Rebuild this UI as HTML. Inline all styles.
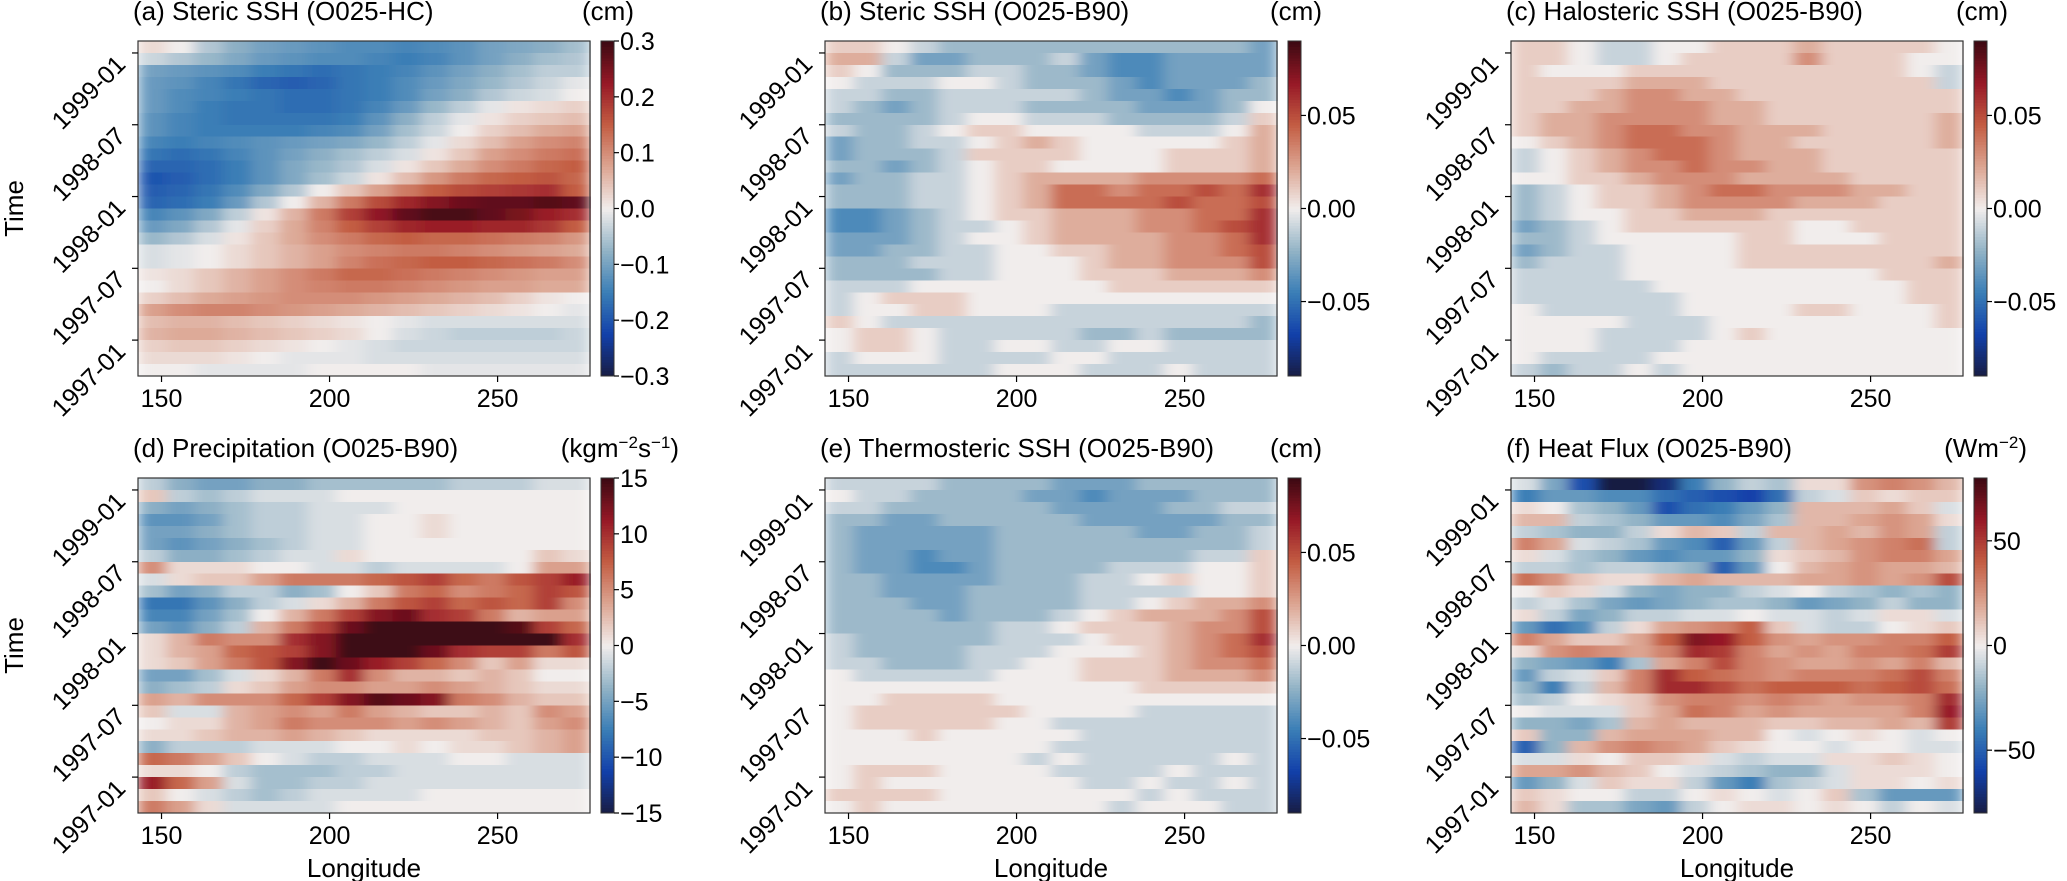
<!DOCTYPE html>
<html><head><meta charset="utf-8"><style>
html,body{margin:0;padding:0;background:#fff;}
svg{display:block;font-family:"Liberation Sans","DejaVu Sans",sans-serif;}
</style></head><body>
<svg id="fig" width="2067" height="881" viewBox="0 0 2067 881" xmlns="http://www.w3.org/2000/svg">
<defs>
<filter id="hblur" x="0" y="0" width="1" height="1"><feGaussianBlur stdDeviation="7 0" edgeMode="duplicate"/></filter>
</defs>
</svg>
<script>
// ---- shared axis data ----
const lonMin = 143, lonMax = 277.5;
const lonTicks = [150, 200, 250];
const timeStart = "1996-10"; // bottom edge, 28 monthly rows, top row = 1999-01
const nMonths = 28;
const timeTickMonths = [3, 9, 15, 21, 27];
const timeTickLabels = ["1997-01", "1997-07", "1998-01", "1998-07", "1999-01"];
const nLonCols = 16;

// ---- panel (a) steric SSH O025-HC, units 0.01 cm, rows top (1999-01) to bottom ----
const stericHC = [
[2,0,-5,-8,-10,-11,-12,-13,-13,-14,-13,-12,-10,-9,-8,-6],
[-3,-5,-7,-9,-11,-12,-13,-13,-14,-15,-14,-12,-10,-8,-6,-5],
[-10,-11,-12,-13,-15,-16,-17,-16,-15,-14,-12,-10,-8,-6,-4,-4],
[-11,-12,-14,-16,-18,-19,-18,-16,-15,-13,-11,-9,-7,-5,-3,-1],
[-11,-13,-14,-15,-16,-17,-17,-16,-15,-13,-10,-8,-5,-3,-2,0],
[-11,-13,-15,-16,-16,-17,-17,-16,-14,-11,-7,-4,-1,1,2,3],
[-12,-14,-15,-16,-16,-16,-16,-15,-12,-8,-4,-1,1,3,4,5],
[-12,-14,-15,-15,-15,-15,-14,-13,-10,-6,-3,0,3,5,7,8],
[-14,-15,-14,-13,-12,-11,-10,-9,-7,-4,-1,2,5,8,10,11],
[-16,-17,-16,-14,-12,-10,-8,-6,-4,-2,1,4,8,10,12,13],
[-18,-18,-17,-15,-12,-9,-7,-5,-2,1,4,7,10,12,14,15],
[-20,-19,-17,-15,-12,-9,-6,-3,1,5,9,12,14,15,16,14],
[-19,-18,-16,-13,-9,-5,0,4,8,12,15,17,18,19,20,15],
[-18,-17,-15,-11,-5,0,6,12,17,21,24,26,27,27,28,27],
[-14,-12,-9,-4,1,6,12,18,23,27,29,29,27,25,22,20],
[-11,-9,-5,-1,3,7,11,15,18,21,22,22,21,21,19,15],
[-7,-5,-2,1,4,7,10,12,14,15,14,14,13,12,11,9],
[-2,-1,0,2,4,6,8,10,11,12,12,11,10,9,8,7],
[-2,-1,0,2,4,6,8,11,13,14,15,15,14,13,12,10],
[1,2,4,6,8,10,12,14,14,13,12,11,10,9,8,8],
[0,2,4,6,8,10,11,12,12,11,10,9,8,8,7,7],
[3,5,7,8,9,10,10,10,9,8,7,6,5,3,1,0],
[8,10,11,11,10,9,8,7,6,5,4,3,2,1,0,-1],
[5,6,6,5,4,3,2,1,0,-1,-2,-2,-2,-2,-2,-2],
[6,7,7,6,5,4,3,2,0,-2,-3,-4,-4,-4,-4,-3],
[3,4,4,3,2,1,0,-1,-2,-3,-3,-3,-3,-3,-3,-3],
[2,2,2,1,0,-1,-1,-1,-2,-2,-2,-2,-2,-2,-2,-2],
[0,0,-1,-1,-1,-1,0,0,0,0,-1,-1,-1,-1,-1,-1]];

// ---- panel (b) steric SSH O025-B90, units 0.01 cm ----
const stericB90 = [
[1,1,0,-1,-2,-2,-2,-2,-2,-2,-2,-2,-2,-2,-2,-3],
[2,2,-1,-3,-3,-2,-2,-2,-1,-3,-4,-4,-3,-3,-3,-3],
[1,0,-2,-2,-2,-1,-1,-2,-2,-3,-4,-4,-3,-3,-3,-3],
[0,-1,-1,-1,0,0,-1,-2,-2,-2,-3,-4,-3,-3,-3,-2],
[-1,-1,-2,-2,-1,-1,-1,-1,-1,-2,-3,-3,-4,-3,-2,-2],
[-1,-2,-3,-2,-1,-1,-1,-2,-2,-2,-2,-3,-3,-3,-2,0],
[-2,-2,-2,-2,-1,0,0,-1,-1,-1,-2,-2,-2,-2,-1,1],
[-1,-2,-2,-1,0,1,1,0,0,0,0,-1,-1,-1,0,2],
[-3,-2,-2,-1,-1,0,1,2,1,0,0,0,0,0,1,2],
[-3,-2,-2,-2,-1,1,1,1,1,0,0,0,1,1,1,2],
[-2,-2,-3,-2,-1,0,1,1,0,0,0,0,1,1,1,2],
[-3,-2,-2,-1,-1,0,1,2,2,2,2,3,3,3,3,4],
[-2,-2,-2,-1,-1,0,1,2,4,4,3,4,4,5,4,6],
[-2,-2,-2,-1,-1,0,1,2,4,4,4,4,5,4,4,5],
[-4,-4,-3,-2,-1,0,1,1,2,2,2,3,3,4,4,6],
[-4,-4,-3,-2,-1,-1,0,1,2,2,2,3,3,4,5,6],
[-3,-3,-3,-2,-1,0,0,1,2,2,2,2,3,3,4,6],
[-3,-3,-2,-2,-1,-1,0,0,1,1,2,2,3,3,4,5],
[-2,-2,-2,-1,-1,-1,0,0,0,1,2,2,3,3,3,5],
[-2,-2,-2,-2,-1,-1,0,0,0,1,1,1,2,2,2,3],
[-1,-1,-1,0,0,0,0,0,0,0,1,1,1,1,1,1],
[-1,0,1,1,1,0,0,0,0,0,0,0,0,0,0,0],
[-1,0,0,1,1,0,0,0,-1,-1,-1,-1,-1,-1,-1,-1],
[1,0,-1,-1,-1,-1,-1,-1,-1,-1,-1,-1,-1,-1,-1,-2],
[0,1,1,0,-1,-1,-1,-1,-1,-2,-2,-1,-2,-2,-2,-2],
[0,1,1,0,-1,-1,0,0,-1,-1,0,0,-1,-1,-1,-1],
[-1,0,0,0,-1,-1,-1,-1,0,0,-1,-1,-1,-1,-1,-1],
[-1,-1,-1,-1,-1,-1,0,0,0,-1,-1,-1,0,-1,-1,-1]];

// ---- panel (c) halosteric SSH, units 0.01 cm ----
const halosteric = [
[1,1,0,-1,-1,0,0,1,1,1,2,1,1,1,1,0],
[1,1,0,-1,-1,0,1,1,1,1,3,1,1,1,0,0],
[1,0,0,0,1,1,1,1,1,1,1,1,1,1,0,-1],
[1,1,1,1,2,2,2,1,1,1,1,1,1,1,1,-1],
[1,1,1,2,3,3,2,2,1,1,1,1,1,1,1,1],
[1,1,2,2,3,3,3,2,2,1,1,1,1,1,1,1],
[1,2,2,3,3,3,3,2,2,1,1,1,1,1,1,2],
[1,2,2,3,4,4,3,3,2,2,2,1,1,1,1,2],
[0,1,2,3,4,4,4,3,2,2,1,1,1,1,1,2],
[-1,0,1,2,3,4,4,3,2,2,2,1,1,1,1,1],
[-1,0,1,2,3,3,4,3,3,2,2,1,1,1,1,1],
[0,0,1,1,2,3,3,3,2,2,2,2,1,1,1,1],
[-2,-1,0,1,1,2,3,4,4,3,3,3,2,2,1,1],
[-2,-1,0,1,1,2,3,3,3,3,2,2,2,1,1,1],
[-2,-1,0,0,1,1,2,2,2,1,1,1,1,1,1,1],
[-3,-2,-1,0,1,1,1,1,1,1,0,0,1,1,1,1],
[-2,-2,-1,0,0,0,0,0,1,1,0,0,0,1,1,1],
[-3,-2,-1,-1,0,0,0,0,1,1,1,1,1,1,1,1],
[-2,-1,-1,-1,0,0,0,0,1,1,1,1,1,1,1,2],
[-1,-1,-1,-1,0,0,0,0,0,0,0,0,0,1,1,1],
[-1,-1,-1,-1,-1,0,0,0,0,0,0,0,0,0,1,1],
[-1,-1,-1,-1,-1,-1,0,0,0,0,0,0,0,0,1,1],
[0,-1,-1,-1,-1,-1,0,0,0,0,1,1,0,0,0,1],
[0,0,0,0,-1,-1,-1,0,0,0,0,0,0,0,0,1],
[0,0,0,-1,-1,-1,-1,0,1,0,0,0,0,0,0,0],
[0,0,0,-1,-1,-1,0,0,0,0,0,0,0,0,0,0],
[0,-1,-1,-1,-1,0,0,0,0,0,0,0,0,0,0,0],
[-1,-2,-1,-1,0,-1,0,0,0,0,0,0,0,0,0,0]];

// ---- panel (d) precipitation (colorbar units) ----
const precip = [
[-2,-4,-5,-5,-4,-4,-3,-3,-3,-3,-3,-2,-2,-2,-1,-1],
[2,-2,-3,-2,-1,-1,-1,0,0,0,0,0,0,0,0,0],
[-4,-5,-4,-3,-2,-2,-1,-1,-1,0,0,0,0,0,0,0],
[-6,-6,-5,-3,-2,-2,-1,-1,0,0,1,0,0,0,0,0],
[-5,-5,-4,-3,-2,-2,-1,-1,0,0,1,0,0,0,0,0],
[-5,-6,-5,-4,-3,-2,-1,-1,0,0,0,0,0,0,0,0],
[-2,-4,-4,-3,-2,-1,-1,1,0,0,0,0,0,0,2,1],
[5,1,1,1,0,0,-1,-1,-2,-1,-1,-1,-1,0,4,4],
[-1,1,2,2,4,6,6,6,7,8,9,7,6,8,9,11],
[-3,-5,-4,-2,-2,-4,-3,0,2,6,7,5,6,7,9,8],
[-8,-8,-6,-4,-2,-1,1,3,6,8,9,7,8,7,9,5],
[-7,-7,-5,-3,0,3,6,9,12,13,10,9,6,3,4,4],
[-5,-6,-4,-2,3,6,9,13,15,15,15,15,15,14,9,7],
[1,3,6,5,5,10,12,15,15,15,15,15,15,15,15,10],
[1,3,4,7,8,9,12,15,15,15,13,10,9,9,6,8],
[1,2,4,6,8,12,15,13,11,9,7,5,2,4,1,1],
[-5,-5,-3,-1,1,3,6,10,5,3,3,2,3,2,0,0],
[-4,-3,-2,1,2,4,5,5,4,4,5,4,3,2,1,1],
[4,3,5,5,5,7,9,12,14,13,12,6,5,3,2,2],
[2,-1,-1,3,4,5,4,6,4,3,2,2,3,2,5,4],
[0,1,1,3,4,6,5,5,5,4,5,4,3,2,4,5],
[1,1,2,3,3,4,3,2,1,1,1,1,2,2,3,4],
[-4,-2,-2,-2,-1,-1,-1,0,0,1,0,1,1,2,3,4],
[7,6,4,2,0,-1,-2,-2,-1,-1,-1,0,0,-1,-1,-1],
[1,1,0,-2,-3,-3,-3,-2,-2,-1,-1,-1,-1,-1,-1,-1],
[11,7,4,-1,-3,-3,-2,-2,-1,-1,-1,-1,-1,-1,-1,-1],
[2,0,-1,-2,-3,-2,-1,-1,-1,-1,0,0,0,0,0,0],
[6,4,1,-1,-1,-1,-1,0,0,0,0,0,0,0,0,0]];

// ---- panel (e) thermosteric SSH, units 0.01 cm ----
const thermosteric = [
[-1,-1,-1,-1,-2,-2,-2,-2,-3,-3,-3,-2,-2,-2,-2,-2],
[0,-1,-1,-2,-2,-2,-2,-3,-3,-4,-3,-3,-3,-2,-2,-2],
[-1,-1,-2,-2,-2,-2,-2,-2,-3,-3,-3,-3,-2,-2,-1,-1],
[-2,-2,-3,-3,-2,-2,-2,-2,-2,-3,-3,-3,-3,-3,-2,-2],
[-2,-3,-3,-3,-3,-3,-2,-2,-2,-2,-2,-3,-3,-2,-2,-1],
[-2,-3,-3,-3,-3,-3,-2,-2,-2,-2,-2,-2,-2,-2,-2,-1],
[-2,-3,-3,-4,-3,-3,-2,-2,-2,-2,-2,-2,-2,-1,-1,1],
[-2,-3,-3,-4,-4,-3,-2,-2,-2,-2,-1,-1,-1,0,0,1],
[-2,-2,-3,-3,-3,-3,-2,-2,-2,-1,-1,0,1,0,0,1],
[-2,-2,-3,-3,-3,-2,-2,-2,-2,-1,-1,-1,-1,0,0,1],
[-2,-2,-2,-3,-3,-2,-2,-2,-2,-1,-1,0,1,2,2,3],
[-2,-2,-2,-2,-3,-2,-2,-2,-1,0,1,2,2,2,3,5],
[-2,-2,-2,-2,-2,-2,-1,-1,0,1,1,1,2,3,3,5],
[-1,-2,-2,-2,-2,-2,-1,-1,-1,0,1,1,2,3,4,6],
[-1,-2,-2,-2,-2,-1,-1,-1,0,0,0,1,2,3,4,5],
[-1,-1,-2,-2,-2,-1,-1,0,0,1,1,1,2,3,3,4],
[0,-1,-1,-1,-1,-1,0,0,0,1,1,1,2,2,2,3],
[0,0,0,0,0,0,0,0,0,0,0,1,1,1,1,1],
[0,0,1,1,1,1,0,0,0,0,0,0,0,0,0,0],
[0,1,1,1,1,1,1,0,0,0,0,-1,-1,-1,-1,-1],
[0,1,1,1,1,1,0,0,-1,-1,-1,-1,-1,-1,-1,-1],
[0,0,0,1,0,0,0,0,0,-1,-1,-1,-1,-1,-1,-1],
[0,0,0,0,0,0,0,0,-1,-1,-1,-1,-1,-1,-1,-1],
[0,0,0,0,0,0,0,-1,0,-1,-1,-1,-1,-1,0,-1],
[0,1,1,1,0,0,0,0,-1,-1,-1,-1,0,-1,-1,-1],
[0,1,0,0,0,0,0,0,0,-1,-1,0,-1,-1,0,-1],
[1,1,1,1,0,0,0,0,0,0,0,-1,0,-1,-1,-1],
[0,1,0,0,0,0,0,0,0,0,-1,0,0,0,-1,-1]];

// ---- panel (f) heat flux, W m-2 ----
const heatFlux = [
[-5,-25,-55,-80,-80,-70,-40,-20,-10,-15,5,5,25,30,25,15],
[-40,-30,-30,-35,-35,-45,-50,-55,-60,-45,-10,-5,10,5,10,10],
[5,0,-15,-20,-30,-55,-45,-40,-30,-20,15,15,15,20,10,-5],
[15,15,-10,-15,-20,-30,-30,-35,-25,-15,15,15,20,25,20,5],
[-10,-15,-20,-20,-10,5,15,10,-10,15,15,20,15,25,20,-10],
[30,20,-5,-10,-15,-30,-35,-50,-30,-10,15,20,25,30,35,-10],
[5,-5,-15,-20,-30,-35,-30,-30,-20,5,10,15,25,30,30,20],
[-10,-10,-15,-10,-10,-15,-20,-50,-30,0,15,20,25,20,20,15],
[35,25,10,5,5,15,20,15,15,15,20,20,25,20,25,45],
[0,10,5,-5,-20,-25,-20,-20,-10,-5,0,-10,-15,-20,-15,-20],
[-10,-5,-15,-25,-30,-25,-20,-15,-15,-20,-30,-25,-20,-10,-20,-20],
[5,-10,-25,-20,-10,-10,-5,-5,0,-5,-5,-10,-5,5,5,-5],
[-30,-45,-35,-10,5,20,25,30,40,10,-5,-10,-10,0,5,10],
[30,20,10,10,20,40,65,60,40,25,20,25,25,30,30,40],
[5,25,30,25,20,30,55,50,30,20,25,20,30,30,35,50],
[-20,-25,-30,-40,-15,20,30,45,30,25,20,20,25,20,30,15],
[-30,-10,-5,10,30,55,40,35,30,25,30,30,30,35,45,30],
[-20,-40,-10,15,30,55,55,45,35,40,40,40,35,40,45,35],
[-15,-10,0,5,10,25,30,30,25,30,25,20,25,25,30,55],
[0,-5,-5,-5,10,20,35,30,20,25,20,20,20,20,30,60],
[-20,-20,-25,-15,15,20,15,15,15,10,10,15,15,20,15,50],
[10,-20,-20,15,20,20,20,15,15,0,-5,0,5,0,-5,0],
[-50,-20,15,25,30,25,20,10,5,0,0,-5,0,0,-5,-5],
[-5,-5,5,0,10,10,5,-5,-10,-5,-5,5,5,10,5,0],
[20,20,25,15,10,0,-5,-10,-15,-20,-20,-5,5,5,5,0],
[-30,-20,-5,10,5,5,-10,-30,-40,-15,-10,-5,5,5,0,5],
[10,5,0,0,-10,-10,0,5,0,-5,0,10,-15,-30,-30,-30],
[15,5,-15,-15,-25,-30,-10,0,5,5,0,5,0,-10,0,-5]];

// colorbar ticks and tick labels (in stored units)
const cbTicksA = [-30,-20,-10,0,10,20,30], cbLabelsA = ["\u22120.3","\u22120.2","\u22120.1","0.0","0.1","0.2","0.3"];
const cbTicksSSH = [-5,0,5], cbLabelsSSH = ["\u22120.05","0.00","0.05"];
const cbTicksP = [-15,-10,-5,0,5,10,15], cbLabelsP = ["\u221215","\u221210","\u22125","0","5","10","15"];
const cbTicksF = [-50,0,50], cbLabelsF = ["\u221250","0","50"];

// ---- rendering ----
const NS = "http://www.w3.org/2000/svg";
const svg = document.getElementById('fig');
const stops = [[0,[24,28,67]],[0.125,[18,64,170]],[0.25,[58,126,182]],[0.375,[146,179,198]],[0.5,[241,237,236]],[0.625,[220,165,146]],[0.75,[195,93,67]],[0.875,[150,24,38]],[1,[60,9,18]]];
function cmap(t){
  t=Math.max(0,Math.min(1,t));
  for(let i=1;i<stops.length;i++){
    if(t<=stops[i][0]){
      const a=stops[i-1],b=stops[i],f=(t-a[0])/(b[0]-a[0]);
      const c=a[1].map((v,k)=>Math.round(v+(b[1][k]-v)*f));
      return `rgb(${c[0]},${c[1]},${c[2]})`;
    }
  }
  return 'rgb(60,9,18)';
}
function mk(tag,attrs,parent){const e=document.createElementNS(NS,tag);for(const k in attrs)e.setAttribute(k,attrs[k]);(parent||svg).appendChild(e);return e;}

const PW=452, PH=335;
const panels=[
 {id:'a',data:stericHC,vmax:30,x0:138,y0:41,title:'(a) Steric SSH (O025-HC)',unit:'(cm)',ticks:cbTicksA,labels:cbLabelsA,uend:496},
 {id:'b',data:stericB90,vmax:9,x0:825,y0:41,title:'(b) Steric SSH (O025-B90)',unit:'(cm)',ticks:cbTicksSSH,labels:cbLabelsSSH,uend:497},
 {id:'c',data:halosteric,vmax:9,x0:1511,y0:41,title:'(c) Halosteric SSH (O025-B90)',unit:'(cm)',ticks:cbTicksSSH,labels:cbLabelsSSH,uend:497},
 {id:'d',data:precip,vmax:15,x0:138,y0:478,title:'(d) Precipitation (O025-B90)',unit:'(kgm<tspan dy="-9" font-size="17">\u22122</tspan><tspan dy="9">s</tspan><tspan dy="-9" font-size="17">\u22121</tspan><tspan dy="9">)</tspan>',ticks:cbTicksP,labels:cbLabelsP,uend:541},
 {id:'e',data:thermosteric,vmax:9,x0:825,y0:478,title:'(e) Thermosteric SSH (O025-B90)',unit:'(cm)',ticks:cbTicksSSH,labels:cbLabelsSSH,uend:497},
 {id:'f',data:heatFlux,vmax:80,x0:1511,y0:478,title:'(f) Heat Flux (O025-B90)',unit:'(Wm<tspan dy="-9" font-size="17">\u22122</tspan><tspan dy="9">)</tspan>',ticks:cbTicksF,labels:cbLabelsF,uend:516}
];

panels.forEach((p,pi)=>{
  const g=mk('g',{});
  
  
  const xs=lon=>p.x0+(lon-lonMin)*PW/(lonMax-lonMin);
  const ys=m=>p.y0+PH-m*PH/nMonths;
  const colW=(lonMax-lonMin)/nLonCols;
  const hm=mk('g',{filter:'url(#hblur)'},g);
  
  
  p.data.forEach((row,ri)=>{
    const m=nMonths-1-ri;
    row.forEach((v,ci)=>{
      const xa=xs(lonMin+ci*colW), xb=xs(lonMin+(ci+1)*colW);
      const ya=ys(m+1), yb=ys(m);
      const r=mk('rect',{x:xa.toFixed(2),y:ya.toFixed(2),width:(xb-xa+0.6).toFixed(2),height:(yb-ya+0.6).toFixed(2),fill:cmap(0.5+v/(2*p.vmax)),'shape-rendering':'crispEdges'},hm);
      
      
    });
  });
  const fr=mk('rect',{x:p.x0,y:p.y0,width:PW,height:PH,fill:'none',stroke:'#333','stroke-width':1.2},g);
  
  
  lonTicks.forEach(L=>{
    const x=xs(L);
    mk('line',{x1:x,x2:x,y1:p.y0+PH,y2:p.y0+PH+6,stroke:'#000','stroke-width':1.2},g);
    const t=mk('text',{x:x,y:p.y0+PH+31,'font-size':25,'text-anchor':'middle',fill:'#000'},g);
    t.textContent=L;
    
    
  });
  timeTickMonths.forEach((m,i)=>{
    const y=ys(m);
    mk('line',{x1:p.x0-6,x2:p.x0,y1:y,y2:y,stroke:'#000','stroke-width':1.2},g);
    const t=mk('text',{transform:`translate(${p.x0-11},${y+13}) rotate(-45)`,'font-size':25,'text-anchor':'end',fill:'#000'},g);
    t.textContent=timeTickLabels[i];
    
    
  });
  const tt=mk('text',{x:p.x0-5,y:p.y0-21,'font-size':26,fill:'#000'},g);
  tt.textContent=p.title;
  
  
  const ut=mk('text',{x:p.x0+p.uend,y:p.y0-21,'font-size':26,'text-anchor':'end',fill:'#000'},g);
  ut.innerHTML=p.unit;
  
  
  const cb=mk('g',{'shape-rendering':'crispEdges'},g);
  
  
  const cx=p.x0+463, cw=13, N=120;
  for(let k=0;k<N;k++){
    mk('rect',{x:cx,y:p.y0+PH-(k+1)*PH/N,width:cw,height:PH/N+0.6,fill:cmap((k+0.5)/N)},cb);
  }
  mk('rect',{x:cx,y:p.y0,width:cw,height:PH,fill:'none',stroke:'#333','stroke-width':1},g);
  p.ticks.forEach((tv,i)=>{
    const y=p.y0+PH/2-tv/p.vmax*PH/2;
    mk('line',{x1:cx+cw,x2:cx+cw+5,y1:y,y2:y,stroke:'#000','stroke-width':1.2},g);
    const t=mk('text',{x:cx+cw+6,y:y+9,'font-size':25,fill:'#000'},g);
    t.textContent=p.labels[i];
    
    
  });
  if(pi%3===0){
    const yl=mk('text',{transform:`translate(23,${p.y0+PH/2}) rotate(-90)`,'font-size':26,'text-anchor':'middle',fill:'#000'},g);
    yl.textContent='Time';
    
    
  }
  if(pi>=3){
    const xl=mk('text',{x:p.x0+PW/2,y:p.y0+PH+64,'font-size':26,'text-anchor':'middle',fill:'#000'},g);
    xl.textContent='Longitude';
    
    
  }
});
</script>
</body></html>
